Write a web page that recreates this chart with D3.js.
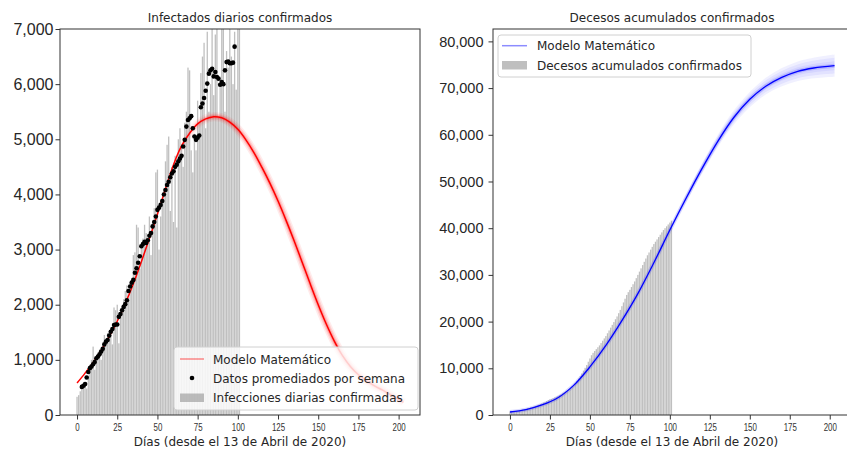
<!DOCTYPE html>
<html>
<head>
<meta charset="utf-8">
<script src="https://cdn.jsdelivr.net/npm/d3@7/dist/d3.min.js"></script>
<style>
  body { margin: 0; background: #fff; }
  svg { display: block; font-family: "DejaVu Sans", sans-serif; }
</style>
</head>
<body>
<svg id="chart" width="847" height="450"></svg>
<script>
  // ===== datos =====
  var barDays = d3.range(0, 102);

  // infecciones diarias confirmadas (día 0..101)
  var dailyInfections = [
    330, 360, 430, 470, 520, 600, 480, 700, 900, 1000,
    1240, 820, 960, 1100, 1180, 1000, 1300, 1450, 1250, 1480,
    1520, 1560, 1280, 1950, 1900, 2000, 1300, 1850, 1980, 2100,
    2250, 2350, 2100, 2400, 2450, 2900, 2950, 3450, 3400, 2650,
    3100, 3200, 3450, 3300, 3100, 3600, 2900, 3500, 3750, 4400,
    4450, 3000, 3600, 3850, 4100, 4600, 4900, 5050, 3700, 4500,
    3500, 4700, 3400, 5000, 5200, 4900, 4500, 5300, 5500, 6300,
    6250, 4800, 4400, 5100, 4800, 5700, 5300, 6200, 6500, 6750,
    5200, 6950, 5500, 6000, 7200, 5800, 6900, 7300, 5400, 6000,
    7100, 7500, 5500, 6600, 6300, 7200, 6500, 6000, 6950, 5900,
    7400, 7100
  ];

  // promedio semanal (día 3..98)
  var avgDays = d3.range(3, 99);
  var weeklyAvg = [
    510, 530, 560, 680, 780, 850, 880, 920, 960, 1030,
    1060, 1100, 1150, 1200, 1280, 1330, 1360, 1440, 1510, 1560,
    1630, 1640, 1640, 1780, 1830, 1900, 1960, 2010, 2080, 2250,
    2330, 2400, 2450, 2580, 2660, 2760, 2880, 3060, 3100, 3140,
    3120, 3170, 3250, 3300, 3420, 3500, 3600, 3720, 3760, 3810,
    3880, 4000, 4080, 4170, 4230, 4310, 4380, 4420, 4500, 4540,
    4600, 4650, 4700, 4870, 4990, 5230, 5350, 5380, 5420, 5200,
    5050, 4990, 5030, 5070, 5580, 5650, 5750, 5880, 6010, 6190,
    6250, 6280, 6140, 6220, 6130, 6100, 5990, 6040, 6000, 6250,
    6400, 6410, 6380, 6380, 6390, 6680
  ];

  // modelo matemático de infecciones
  var infModelDays = [0, 5, 10, 15, 20, 25, 30, 35, 40, 45, 50, 55, 60, 65, 70, 75, 80, 85, 90, 95,
    100, 105, 110, 115, 120, 125, 130, 135, 140, 145, 150, 155, 160, 165, 170, 175, 180, 185, 190, 195, 203];
  var infModel = [580, 760, 950, 1170, 1420, 1700, 2020, 2380, 2780, 3200, 3640, 4100, 4540, 4880, 5110, 5280, 5370, 5410, 5390, 5310,
    5180, 4990, 4760, 4490, 4200, 3880, 3530, 3160, 2770, 2380, 2000, 1650, 1340, 1080, 880, 730, 620, 530, 450, 370, 230];

  // decesos acumulados confirmados (día 0..101)
  var cumDeaths = [
    720, 760, 800, 850, 900, 960, 1020, 1090, 1160, 1240,
    1320, 1410, 1500, 1600, 1710, 1820, 1940, 2060, 2190, 2330,
    2480, 2640, 2810, 2990, 3180, 3380, 3450, 3600, 3750, 3900,
    4080, 4260, 4450, 4650, 4860, 5080, 5300, 5550, 5800, 6100,
    6450, 6850, 7300, 7800, 8300, 8900, 9500, 10100, 10700, 11400,
    12100, 12800, 13300, 13700, 14100, 14500, 14900, 15400, 15900, 16400,
    16900, 17500, 18100, 18700, 19300, 19900, 20500, 21100, 21800, 22500,
    23300, 24100, 24900, 25700, 26300, 26800, 27400, 28000, 28600, 29300,
    30000, 30700, 31400, 32100, 32800, 33500, 34200, 34800, 35400, 36000,
    36600, 37100, 37600, 38100, 38600, 39100, 39600, 40000, 40400, 40800,
    41200, 41600
  ];

  // modelo matemático de decesos
  var deathModelDays = [0, 10, 20, 30, 40, 50, 60, 70, 80, 90, 100, 110, 120, 130, 140, 150, 160, 170, 180, 190, 203];
  var deathModel = [640, 1150, 2150, 3700, 6400, 10300, 14900, 20200, 26000, 32600, 39600, 46300, 52700, 58600, 63700, 67600, 70400, 72300, 73600, 74300, 74800];

  // banda de incertidumbre del modelo de decesos
  var bandDays = [90, 100, 120, 140, 160, 180, 203];
  var deathUpper = [32900, 40200, 53800, 65200, 72200, 75700, 77200];
  var deathLower = [32300, 39000, 51600, 62200, 68600, 71500, 72400];

  var xTicks = [0, 25, 50, 75, 100, 125, 150, 175, 200];
  var infTicks = [0, 1000, 2000, 3000, 4000, 5000, 6000, 7000];
  var deathTicks = [0, 10000, 20000, 30000, 40000, 50000, 60000, 70000, 80000];

  var titles = ['Infectados diarios confirmados', 'Decesos acumulados confirmados'];
  var xLabel = 'Días (desde el 13 de Abril de 2020)';

  // ===== dibujo =====
  var svg = d3.select('#chart');
  var fmt = d3.format(',');
  var TXT = '#262626';

  var defs = svg.append('defs');

  function panel(left, top, width, height, yMax, yTicks, yFont, yPad, title) {
    var g = svg.append('g').attr('transform', 'translate(' + left + ',' + top + ')');
    var x = d3.scaleLinear().domain([-10.6, 213.3]).range([0, width]);
    var y = d3.scaleLinear().domain([0, yMax]).range([height, 0]);

    var clipId = 'clip' + left;
    defs.append('clipPath').attr('id', clipId)
      .append('rect').attr('width', width).attr('height', height);

    var plot = g.append('g').attr('clip-path', 'url(#' + clipId + ')');

    // eje x
    var xa = g.append('g').attr('transform', 'translate(0,' + height + ')')
      .call(d3.axisBottom(x).tickValues(xTicks).tickSize(4.5).tickPadding(4).tickFormat(d3.format('d')));
    xa.select('.domain').remove();
    xa.selectAll('line').attr('stroke', '#333');
    xa.selectAll('text').attr('fill', '#333').style('font-size', '11px')
      .attr('transform', 'scale(0.72,1)');

    // eje y
    var ya = g.append('g')
      .call(d3.axisLeft(y).tickValues(yTicks).tickSize(4.5).tickPadding(yPad).tickFormat(fmt));
    ya.select('.domain').remove();
    ya.selectAll('line').attr('stroke', '#333');
    ya.selectAll('text').attr('fill', TXT).style('font-size', yFont + 'px');

    // marco
    g.append('rect').attr('width', width).attr('height', height)
      .attr('fill', 'none').attr('stroke', '#333').attr('stroke-width', 1);

    g.append('text').attr('x', width / 2).attr('y', -7).attr('text-anchor', 'middle')
      .attr('fill', TXT).style('font-size', '12px').text(title);

    g.append('text').attr('x', width / 2).attr('y', height + 31).attr('text-anchor', 'middle')
      .attr('fill', TXT).style('font-size', '12px').text(xLabel);

    return { g: g, plot: plot, x: x, y: y, width: width, height: height };
  }

  function drawBars(p, values) {
    var bw = (p.x(0.8) - p.x(0));
    p.plot.append('g').selectAll('rect')
      .data(values)
      .join('rect')
      .attr('x', function (d, i) { return p.x(barDays[i]) - bw / 2; })
      .attr('y', function (d) { return p.y(d); })
      .attr('width', bw)
      .attr('height', function (d) { return p.y(0) - p.y(d); })
      .attr('fill', '#808080')
      .attr('fill-opacity', 0.5);
  }

  function glowGradient(id, p, x0, x1, color) {
    var grad = defs.append('linearGradient').attr('id', id)
      .attr('gradientUnits', 'userSpaceOnUse')
      .attr('x1', p.x(x0)).attr('x2', p.x(x1)).attr('y1', 0).attr('y2', 0);
    grad.append('stop').attr('offset', 0).attr('stop-color', color).attr('stop-opacity', 0);
    grad.append('stop').attr('offset', 1).attr('stop-color', color).attr('stop-opacity', 1);
  }

  // ---- panel izquierdo ----
  var L = panel(60, 29, 360, 386, 7000, infTicks, 16, 2, titles[0]);
  drawBars(L, dailyInfections);

  var infLine = d3.line()
    .x(function (d, i) { return L.x(infModelDays[i]); })
    .y(function (d) { return L.y(d); })
    .curve(d3.curveCatmullRom);

  glowGradient('redGlow', L, 62, 84, '#ff0000');
  [[9, 0.08], [6, 0.12], [3.5, 0.2]].forEach(function (s) {
    L.plot.append('path').attr('d', infLine(infModel)).attr('fill', 'none')
      .attr('stroke', 'url(#redGlow)').attr('stroke-width', s[0]).attr('stroke-opacity', s[1]);
  });
  L.plot.append('path').attr('d', infLine(infModel)).attr('fill', 'none')
    .attr('stroke', '#ff0000').attr('stroke-width', 1.5);

  L.plot.append('g').selectAll('circle')
    .data(weeklyAvg)
    .join('circle')
    .attr('cx', function (d, i) { return L.x(avgDays[i]); })
    .attr('cy', function (d) { return L.y(d); })
    .attr('r', 2.3)
    .attr('fill', '#000');

  // leyenda izquierda
  var lg = L.g.append('g').attr('transform', 'translate(114,318)');
  lg.append('rect').attr('width', 244).attr('height', 63).attr('rx', 3)
    .attr('fill', '#fff').attr('fill-opacity', 0.8).attr('stroke', '#d0d0d0');
  lg.append('line').attr('x1', 6).attr('x2', 30).attr('y1', 12).attr('y2', 12)
    .attr('stroke', '#ff0000').attr('stroke-opacity', 0.45).attr('stroke-width', 1.5);
  lg.append('circle').attr('cx', 18).attr('cy', 31).attr('r', 2.3).attr('fill', '#000');
  lg.append('rect').attr('x', 6).attr('y', 46.5).attr('width', 24).attr('height', 8.5)
    .attr('fill', '#808080').attr('fill-opacity', 0.5);
  ['Modelo Matemático', 'Datos promediados por semana', 'Infecciones diarias confirmadas'].forEach(function (t, i) {
    lg.append('text').attr('x', 39).attr('y', 16.5 + i * 19.3).attr('fill', TXT)
      .style('font-size', '12px').text(t);
  });

  // ---- panel derecho ----
  var R = panel(493, 29, 358, 386, 82650, deathTicks, 14.5, 5, titles[1]);
  drawBars(R, cumDeaths);

  var bandMid = bandDays.map(function (dd) {
    var i = deathModelDays.indexOf(dd);
    return i >= 0 ? deathModel[i] : deathModel[deathModelDays.length - 1];
  });
  var bandArea = function (frac) {
    return d3.area()
      .x(function (d, i) { return R.x(bandDays[i]); })
      .y0(function (d, i) { return R.y(d + (deathLower[i] - d) * frac); })
      .y1(function (d, i) { return R.y(d + (deathUpper[i] - d) * frac); })
      .curve(d3.curveCatmullRom);
  };
  glowGradient('blueGlow', R, 88, 112, '#0000ff');
  [1, 0.7, 0.4].forEach(function (f) {
    R.plot.append('path').attr('d', bandArea(f)(bandMid))
      .attr('fill', 'url(#blueGlow)').attr('fill-opacity', 0.06);
  });

  var deathLine = d3.line()
    .x(function (d, i) { return R.x(deathModelDays[i]); })
    .y(function (d) { return R.y(d); })
    .curve(d3.curveCatmullRom);
  R.plot.append('path').attr('d', deathLine(deathModel)).attr('fill', 'none')
    .attr('stroke', '#0000ff').attr('stroke-opacity', 0.15).attr('stroke-width', 4);
  R.plot.append('path').attr('d', deathLine(deathModel)).attr('fill', 'none')
    .attr('stroke', '#0000ff').attr('stroke-width', 1.3);

  // leyenda derecha
  var rg = R.g.append('g').attr('transform', 'translate(5,6)');
  rg.append('rect').attr('width', 253).attr('height', 42).attr('rx', 3)
    .attr('fill', '#fff').attr('fill-opacity', 0.8).attr('stroke', '#d0d0d0');
  rg.append('line').attr('x1', 4).attr('x2', 29).attr('y1', 10.7).attr('y2', 10.7)
    .attr('stroke', '#0000ff').attr('stroke-opacity', 0.45).attr('stroke-width', 1.5);
  rg.append('rect').attr('x', 4).attr('y', 26).attr('width', 25).attr('height', 8.5)
    .attr('fill', '#808080').attr('fill-opacity', 0.5);
  ['Modelo Matemático', 'Decesos acumulados confirmados'].forEach(function (t, i) {
    rg.append('text').attr('x', 39).attr('y', 15 + i * 19.5).attr('fill', TXT)
      .style('font-size', '12px').text(t);
  });
</script>
</body>
</html>
